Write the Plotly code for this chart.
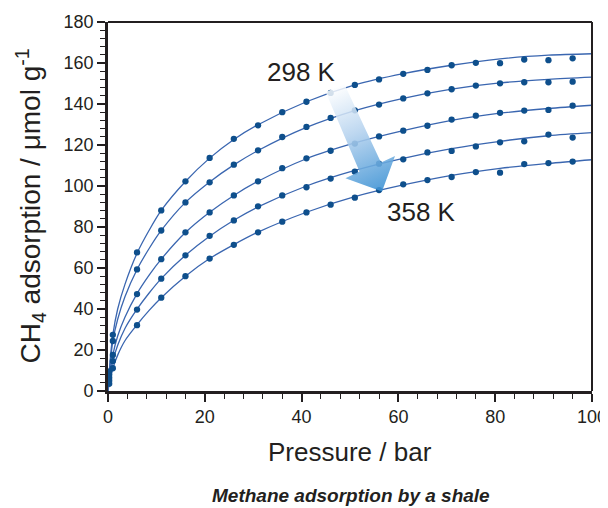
import base64
import plotly.graph_objects as go

# ---------------- data ----------------
temps = ["298 K", "313 K", "328 K", "343 K", "358 K"]

pressure_pts = [0.25, 1, 6, 11, 16, 21, 26, 31, 36, 41, 46, 51, 56, 61, 66, 71, 76, 81, 86, 91, 96]

ads_298 = [9.5, 27.4, 67.6, 88.1, 102.3, 113.7, 123.0, 129.6, 136.0, 141.1, 145.4, 149.3, 152.0, 154.7,
           156.6, 158.9, 160.1, 159.9, 161.7, 161.4, 162.3]
ads_313 = [8.0, 24.4, 59.3, 78.3, 92.0, 101.8, 110.4, 117.4, 123.9, 128.8, 133.2, 136.9, 139.7, 142.7,
           145.2, 147.2, 149.0, 150.1, 150.6, 150.6, 150.9]
ads_328 = [6.5, 17.6, 47.3, 64.3, 77.4, 87.1, 95.4, 102.3, 108.7, 113.5, 117.2, 120.7, 124.2, 127.0,
           129.4, 132.4, 134.3, 135.7, 136.8, 137.1, 139.2]
ads_343 = [5.0, 14.6, 39.7, 54.8, 66.2, 75.7, 83.2, 90.1, 95.4, 99.4, 103.6, 107.0, 110.9, 113.0,
           116.4, 117.1, 119.3, 121.3, 121.8, 125.1, 123.6]
ads_358 = [3.5, 11.1, 32.1, 45.5, 56.0, 64.6, 71.3, 77.4, 82.6, 87.1, 90.9, 94.3, 98.0, 100.8,
           102.9, 104.4, 106.8, 106.5, 110.7, 111.2, 111.9]

# fitted curves
pressure_fit = [0, 0.25, 1, 2, 3.5, 6, 8.5, 11, 16, 21, 26, 31, 41, 51, 61, 71, 81, 91, 100]
fit_298 = [0, 9.5, 27.4, 40.0, 52.0, 67.2, 78.4, 88.1, 102.2, 113.6, 122.7, 129.9, 141.1, 149.3, 154.8, 158.9, 162.0, 163.8, 164.5]
fit_313 = [0, 8.0, 24.4, 35.0, 46.0, 59.3, 69.5, 78.3, 92.0, 102.0, 110.3, 117.3, 128.6, 136.8, 142.8, 147.3, 150.3, 152.0, 153.1]
fit_328 = [0, 6.5, 17.6, 26.8, 36.0, 47.5, 56.5, 64.3, 77.3, 87.2, 95.4, 102.3, 113.3, 121.0, 127.0, 132.0, 135.5, 137.8, 139.4]
fit_343 = [0, 5.0, 14.6, 22.3, 30.5, 39.9, 47.8, 54.8, 66.2, 75.5, 83.3, 89.8, 100.0, 107.6, 113.5, 118.2, 121.8, 124.5, 126.0]
fit_358 = [0, 3.5, 11.1, 17.5, 24.5, 32.3, 39.3, 45.5, 56.0, 64.6, 71.4, 77.5, 87.2, 94.8, 100.5, 105.2, 108.6, 111.0, 112.8]

x_ticks = [0, 20, 40, 60, 80, 100]
y_ticks = [0, 20, 40, 60, 80, 100, 120, 140, 160, 180]

series_pts = [ads_298, ads_313, ads_328, ads_343, ads_358]
series_fit = [fit_298, fit_313, fit_328, fit_343, fit_358]

# ---------------- styling ----------------
FONT = "Liberation Sans, Arial, Helvetica, sans-serif"
INK = "#231f20"
LINE_C = "#3a66b0"
DOT_C = "#0e4f8c"

fig = go.Figure()
for name, fit in zip(temps, series_fit):
    fig.add_trace(go.Scatter(x=pressure_fit, y=fit, mode="lines", name=name + " fit",
                             line=dict(color=LINE_C, width=1.3, shape="spline", smoothing=0.8),
                             showlegend=False, hoverinfo="skip"))
for name, vals in zip(temps, series_pts):
    fig.add_trace(go.Scatter(x=pressure_pts, y=vals, mode="markers", name=name,
                             marker=dict(color=DOT_C, size=6.3), showlegend=False))

# ---------------- gradient arrow as an SVG image ----------------
# geometry given in window pixels (plot area spans x 108..592, y 22..391)
bx0, by0, bw, bh = 322, 80, 76, 114
pts = [(325.7, 92.0), (344.3, 84.0), (381.0, 162.5), (395.0, 156.0), (382.0, 191.5),
       (345.4, 178.2), (359.5, 171.6)]
poly = " ".join(f"{x - bx0:.1f},{y - by0:.1f}" for x, y in pts)
svg = (f'<svg xmlns="http://www.w3.org/2000/svg" width="{bw}" height="{bh}" viewBox="0 0 {bw} {bh}">'
       f'<defs><linearGradient id="g" gradientUnits="userSpaceOnUse" x1="{335 - bx0}" y1="{87 - by0}" '
       f'x2="{381 - bx0}" y2="{191 - by0}">'
       f'<stop offset="0" stop-color="#ffffff" stop-opacity="0.95"/>'
       f'<stop offset="0.45" stop-color="#b3d1ee"/>'
       f'<stop offset="1" stop-color="#3990d3"/></linearGradient></defs>'
       f'<polygon points="{poly}" fill="url(#g)" fill-opacity="0.88"/></svg>')
src = "data:image/svg+xml;base64," + base64.b64encode(svg.encode()).decode()

def px2x(px):
    return (px - 108) / 484 * 100

def py2y(py):
    return (391 - py) / 369 * 180

fig.add_layout_image(dict(source=src, xref="x", yref="y", x=px2x(bx0), y=py2y(by0),
                          sizex=bw / 484 * 100, sizey=bh / 369 * 180, sizing="stretch",
                          xanchor="left", yanchor="top", layer="above"))

# ---------------- annotations ----------------
fig.add_annotation(x=px2x(301), y=py2y(72), text="298 K", showarrow=False,
                   xanchor="center", yanchor="middle",
                   font=dict(family=FONT, size=26, color=INK))
fig.add_annotation(x=px2x(421), y=py2y(212), text="358 K", showarrow=False,
                   xanchor="center", yanchor="middle",
                   font=dict(family=FONT, size=26, color=INK))
fig.add_annotation(xref="paper", yref="paper", x=-0.161, y=0.5, textangle=-90,
                   xanchor="center", yanchor="middle",
                   text="CH<sub>4</sub> adsorption / μmol g<sup>-1</sup>", showarrow=False,
                   font=dict(family=FONT, size=28, color=INK))
fig.add_annotation(xref="paper", yref="paper", x=0.5, y=-0.165, text="Pressure / bar",
                   xanchor="center", yanchor="middle",
                   showarrow=False, font=dict(family=FONT, size=26, color=INK))
fig.add_annotation(xref="paper", yref="paper", x=0.502, y=-0.282,
                   xanchor="center", yanchor="middle",
                   text="<b><i>Methane adsorption by a shale</i></b>",
                   showarrow=False, font=dict(family=FONT, size=19, color=INK))

# top and right frame lines (thinner than left/bottom)
fig.add_shape(type="line", xref="paper", yref="paper", x0=0, x1=1, y0=1, y1=1,
              line=dict(color=INK, width=2))
fig.add_shape(type="line", xref="paper", yref="paper", x0=1, x1=1, y0=0, y1=1,
              line=dict(color=INK, width=2))

axis_common = dict(showgrid=False, zeroline=False, showline=True, linecolor=INK, linewidth=2.6,
                   ticks="outside", ticklen=8, tickwidth=1.5, tickcolor=INK, automargin=False,
                   tickfont=dict(family=FONT, size=18, color=INK),
                   minor=dict(dtick=4, ticks="outside", ticklen=5, tickwidth=1.3, tickcolor=INK))

fig.update_xaxes(range=[0, 100], tickvals=x_ticks, ticktext=[str(v) for v in x_ticks], **axis_common)
fig.update_yaxes(range=[0, 180], tickvals=y_ticks, ticktext=[str(v) for v in y_ticks], **axis_common)

# page body has an 8px margin: figure is 600x500 and sits at (8, 8) in the window
fig.update_layout(width=600, height=500, margin=dict(l=100, r=16, t=14, b=117),
                  paper_bgcolor="white", plot_bgcolor="white", showlegend=False)

fig.write_html("out.html")
